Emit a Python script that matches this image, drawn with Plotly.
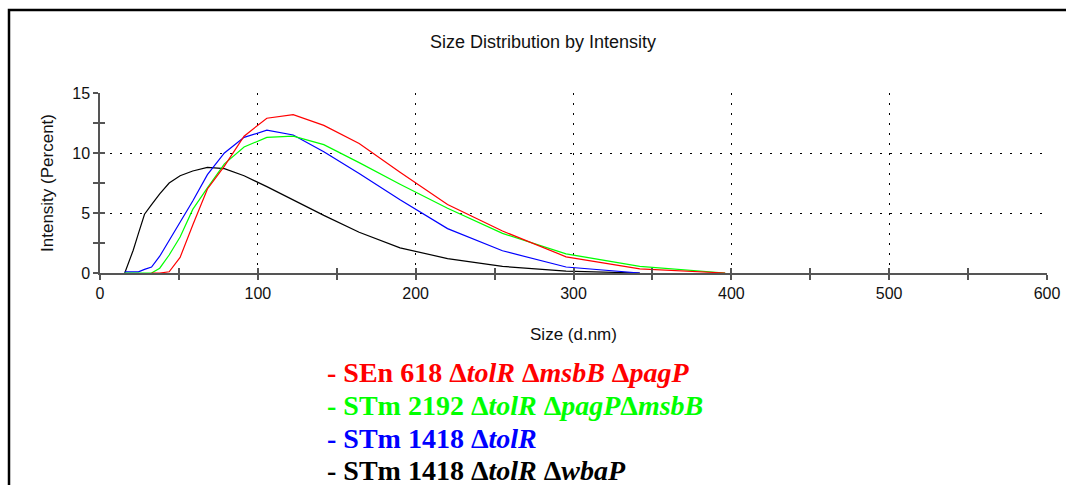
import plotly.graph_objects as go

# Zetasizer size bins (d.nm)
size_bins = [15.69, 18.17, 21.04, 24.36, 28.21, 32.67, 37.84, 43.82, 50.75, 58.77, 68.06,
             78.82, 91.28, 105.7, 122.4, 141.8, 164.2, 190.1, 220.2, 255.0, 295.3, 342.0, 396.1]

red_sen618 = [None, None, None, None, None, 0.0, 0.0, 0.1, 1.3, 4.0, 7.0,
              8.9, 11.4, 12.9, 13.2, 12.3, 10.8, 8.4, 5.7, 3.5, 1.35, 0.35, 0.0]
green_stm2192 = [0.0, 0.0, 0.0, 0.0, 0.0, 0.0, 0.4, 1.5, 3.0, 5.3, 7.1,
                 9.1, 10.5, 11.3, 11.4, 10.7, 9.2, 7.4, 5.4, 3.3, 1.6, 0.55, 0.0]
blue_stm1418 = [0.1, 0.1, 0.1, 0.1, 0.3, 0.5, 1.4, 2.7, 4.2, 6.0, 8.2,
                10.0, 11.3, 11.9, 11.5, 10.1, 8.3, 6.1, 3.7, 1.85, 0.5, 0.0, None]
black_stm1418_wbaP = [0.0, 0.9, 1.9, 3.3, 4.9, 5.7, 6.6, 7.5, 8.1, 8.5, 8.8,
                      8.7, 8.1, 7.2, 6.1, 4.8, 3.4, 2.1, 1.2, 0.55, 0.15, 0.0, None]

series = [
    ("SEn 618 ΔtolR ΔmsbB ΔpagP", red_sen618, "#ff0000"),
    ("STm 2192 ΔtolR ΔpagPΔmsbB", green_stm2192, "#00ff00"),
    ("STm 1418 ΔtolR", blue_stm1418, "#0000ff"),
    ("STm 1418 ΔtolR ΔwbaP", black_stm1418_wbaP, "#000000"),
]

legend_labels = [
    ("- SEn 618 Δ<i>tolR</i> Δ<i>msbB</i> Δ<i>pagP</i>", "#ff0000"),
    ("- STm 2192 Δ<i>tolR</i> Δ<i>pagP</i>Δ<i>msbB</i>", "#00ff00"),
    ("- STm 1418 Δ<i>tolR</i>", "#0000ff"),
    ("- STm 1418 Δ<i>tolR</i> Δ<i>wbaP</i>", "#000000"),
]

x_ticks = [0, 100, 200, 300, 400, 500, 600]
y_ticks = [0, 5, 10, 15]

fig = go.Figure()
for name, vals, col in reversed(series):
    fig.add_trace(go.Scatter(x=size_bins, y=vals, mode="lines", name=name,
                             line=dict(color=col, width=1.2), showlegend=False,
                             connectgaps=False))

# invisible trace for overlay axes (inner half of crossing ticks)
fig.add_trace(go.Scatter(x=[0], y=[0], xaxis="x2", yaxis="y2", mode="markers",
                         marker=dict(opacity=0), showlegend=False, hoverinfo="skip"))

narrow = "Liberation Sans Narrow, Arial Narrow, Liberation Sans, Arial, sans-serif"
axis_gray = "#555555"
grid_dash = "2px,8px"
txt_col = "#111111"

plot_left, plot_right_margin = 100, 19
plot_width = 1066 - plot_left - plot_right_margin
plot_top, plot_bottom = 93, 273

fig.update_layout(
    width=1066, height=485,
    margin=dict(l=plot_left, r=plot_right_margin, t=plot_top, b=485 - plot_bottom,
                autoexpand=False),
    paper_bgcolor="white", plot_bgcolor="white",
    title=dict(text="Size Distribution by Intensity", x=(543 - plot_left) / plot_width,
               xref="paper", xanchor="center", y=1 - 42 / 485, yanchor="middle",
               font=dict(family=narrow, size=18, color=txt_col)),
    xaxis=dict(range=[0, 600], tickvals=x_ticks, ticktext=[str(v) for v in x_ticks],
               showgrid=True, gridcolor="#000000", gridwidth=1, griddash=grid_dash,
               zeroline=False, showline=True, linecolor=axis_gray, linewidth=1.5,
               ticks="outside", ticklen=5, tickcolor=axis_gray, tickwidth=1.5,
               minor=dict(dtick=50, ticks="outside", ticklen=5, tickcolor=axis_gray,
                          tickwidth=1.5, showgrid=False),
               tickfont=dict(family=narrow, size=16, color=txt_col),
               title=dict(text="Size (d.nm)", font=dict(family=narrow, size=17, color=txt_col),
                          standoff=27),
               automargin=False),
    yaxis=dict(range=[0, 15], tickvals=y_ticks, ticktext=[str(v) for v in y_ticks],
               showgrid=True, gridcolor="#000000", gridwidth=1, griddash=grid_dash,
               zeroline=False, showline=True, linecolor=axis_gray, linewidth=1.5,
               ticks="outside", ticklen=5, tickcolor=axis_gray, tickwidth=1.5,
               minor=dict(dtick=2.5, ticks="outside", ticklen=5, tickcolor=axis_gray,
                          tickwidth=1.5, showgrid=False),
               tickfont=dict(family=narrow, size=16, color=txt_col),
               title=dict(text="Intensity (Percent)",
                          font=dict(family=narrow, size=17, color=txt_col), standoff=14),
               automargin=False),
    xaxis2=dict(overlaying="x", anchor="y2", range=[0, 600], showgrid=False, zeroline=False,
                showticklabels=False, ticks="inside", dtick=50, tick0=0, ticklen=5,
                tickcolor=axis_gray, tickwidth=1.5, showline=False),
    yaxis2=dict(overlaying="y", anchor="x2", range=[0, 15], showgrid=False, zeroline=False,
                showticklabels=False, ticks="inside", dtick=2.5, tick0=0, ticklen=5,
                tickcolor=axis_gray, tickwidth=1.5, showline=False),
)

# legend as text lines
legend_rows_px = [372, 405, 438, 470]
for (txt, col), py in zip(legend_labels, legend_rows_px):
    fig.add_annotation(
        text="<b>" + txt + "</b>", xref="paper", yref="paper",
        x=(325 - plot_left) / plot_width, y=(plot_bottom - py) / (plot_bottom - plot_top),
        xanchor="left", yanchor="middle", showarrow=False,
        font=dict(family="Liberation Serif, Times New Roman, serif", size=28, color=col),
    )

# outer frame of the original figure (top and left edges visible)
fig.add_shape(type="rect", xref="paper", yref="paper",
              x0=(9 - plot_left) / plot_width, x1=(1120 - plot_left) / plot_width,
              y0=(plot_bottom - 520) / 180, y1=(plot_bottom - 10) / 180,
              line=dict(color="black", width=2.5), fillcolor="rgba(0,0,0,0)", layer="below")

fig.write_html("out.html")
